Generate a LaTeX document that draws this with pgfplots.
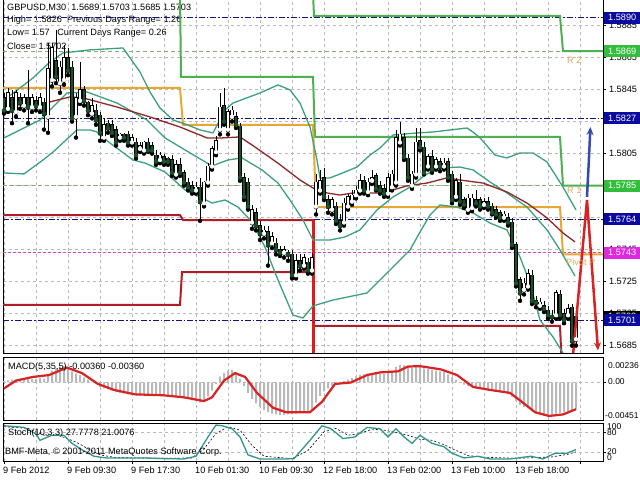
\documentclass[border=0pt]{standalone}
\usepackage{pgfplots}
\pgfplotsset{compat=1.18}
\usepackage{pgfplotstable}
\usepackage{fontspec}
\setmainfont{Liberation Sans}
\usetikzlibrary{arrows.meta}
\definecolor{navyl}{RGB}{20,20,120}
\definecolor{boxnavy}{RGB}{10,10,160}
\definecolor{boxgreen}{RGB}{50,190,60}
\definecolor{boxmag}{RGB}{225,40,225}
\definecolor{rgreen}{RGB}{80,175,80}
\definecolor{pivotc}{RGB}{230,168,50}
\definecolor{sred}{RGB}{175,30,40}
\definecolor{bred}{RGB}{225,25,25}
\definecolor{bbc}{RGB}{60,160,125}
\definecolor{mac}{RGB}{140,40,40}
\definecolor{bearc}{RGB}{25,80,45}
\definecolor{gridc}{RGB}{185,185,185}
\definecolor{lvlgreen}{RGB}{130,175,110}
\definecolor{lvlmag}{RGB}{210,70,210}
\definecolor{histc}{RGB}{185,185,185}
\definecolor{zzblue}{RGB}{55,75,175}
\definecolor{zzred}{RGB}{215,35,35}
\definecolor{lblc}{RGB}{220,170,90}
\definecolor{stochc}{RGB}{50,150,140}
\newcommand\mtf{\fontsize{9.2}{11}\selectfont}
\newcommand\mts{\fontsize{8.5}{10}\selectfont}
\pgfplotsset{
  mtaxis/.style={scale only axis, width=600bp, anchor=south west,
    xmin=-0.25, xmax=149.75,
    axis line style={black, line width=0.7bp},
    tick style={black, line width=0.5bp},
    xtick={0,16,...,144}, minor xtick={8,24,...,136},
    xmajorgrids, xminorgrids, ymajorgrids,
    major grid style={gridc, dash pattern=on 3bp off 3bp, line width=0.5bp},
    minor grid style={gridc, dash pattern=on 3bp off 3bp, line width=0.5bp},
    ytick pos=right, xtick pos=bottom, tick align=outside,
    major tick length=2.5bp, minor tick length=0bp,
    scaled y ticks=false, scaled x ticks=false},
  candle/.style={only marks, mark=none, error bars/.cd, y dir=plus, y explicit, error mark=none}
}
\begin{document}
\pgfplotstableread{
i O H L C
0 1.5840 1.5843 1.5830 1.5832
1 1.5833 1.5846 1.5831 1.5843
2 1.5840 1.5845 1.5824 1.5832
3 1.5831 1.5845 1.5828 1.5843
4 1.5840 1.5843 1.5833 1.5837
5 1.5835 1.5842 1.5832 1.5840
6 1.5840 1.5857 1.5824 1.5834
7 1.5834 1.5842 1.5831 1.5840
8 1.5838 1.5841 1.5832 1.5835
9 1.5834 1.5843 1.5831 1.5840
10 1.5837 1.5840 1.5820 1.5830
11 1.5828 1.5874 1.5818 1.5858
12 1.5851 1.5874 1.5847 1.5871
13 1.5863 1.5882 1.5849 1.5853
14 1.5849 1.5863 1.5843 1.5859
15 1.5851 1.5873 1.5848 1.5865
16 1.5865 1.5871 1.5854 1.5857
17 1.5859 1.5863 1.5825 1.5827
18 1.5828 1.5843 1.5815 1.5840
19 1.5838 1.5862 1.5836 1.5845
20 1.5845 1.5847 1.5835 1.5838
21 1.5837 1.5838 1.5829 1.5832
22 1.5830 1.5840 1.5827 1.5835
23 1.5832 1.5836 1.5823 1.5826
24 1.5829 1.5831 1.5813 1.5818
25 1.5815 1.5827 1.5813 1.5823
26 1.5824 1.5826 1.5818 1.5821
27 1.5823 1.5826 1.5816 1.5818
28 1.5820 1.5822 1.5810 1.5812
29 1.5815 1.5818 1.5813 1.5817
30 1.5817 1.5818 1.5813 1.5815
31 1.5817 1.5819 1.5810 1.5812
32 1.5812 1.5817 1.5810 1.5815
33 1.5812 1.5815 1.5802 1.5804
34 1.5808 1.5812 1.5806 1.5810
35 1.5807 1.5813 1.5805 1.5812
36 1.5812 1.5815 1.5806 1.5807
37 1.5810 1.5812 1.5805 1.5807
38 1.5804 1.5807 1.5798 1.5800
39 1.5801 1.5806 1.5799 1.5804
40 1.5803 1.5805 1.5798 1.5800
41 1.5802 1.5803 1.5798 1.5800
42 1.5801 1.5804 1.5791 1.5793
43 1.5792 1.5801 1.5790 1.5798
44 1.5798 1.5802 1.5791 1.5793
45 1.5793 1.5795 1.5785 1.5787
46 1.5787 1.5790 1.5782 1.5784
47 1.5785 1.5788 1.5780 1.5782
48 1.5782 1.5787 1.5780 1.5784
49 1.5784 1.5790 1.5763 1.5775
50 1.5774 1.5788 1.5772 1.5787
51 1.5787 1.5799 1.5785 1.5797
52 1.5797 1.5810 1.5795 1.5808
53 1.5806 1.5816 1.5804 1.5813
54 1.5820 1.5843 1.5817 1.5834
55 1.5835 1.5846 1.5823 1.5825
56 1.5820 1.5833 1.5817 1.5831
57 1.5828 1.5835 1.5825 1.5832
58 1.5828 1.5831 1.5821 1.5823
59 1.5822 1.5824 1.5788 1.5790
60 1.5790 1.5793 1.5776 1.5778
61 1.5787 1.5790 1.5770 1.5772
62 1.5762 1.5773 1.5758 1.5770
63 1.5768 1.5771 1.5757 1.5760
64 1.5760 1.5763 1.5751 1.5755
65 1.5755 1.5760 1.5752 1.5757
66 1.5756 1.5760 1.5735 1.5748
67 1.5749 1.5756 1.5746 1.5753
68 1.5749 1.5752 1.5742 1.5745
69 1.5745 1.5747 1.5741 1.5743
70 1.5743 1.5747 1.5740 1.5745
71 1.5743 1.5745 1.5738 1.5742
72 1.5742 1.5745 1.5727 1.5729
73 1.5729 1.5742 1.5727 1.5738
74 1.5738 1.5742 1.5732 1.5735
75 1.5735 1.5742 1.5733 1.5740
76 1.5737 1.5740 1.5730 1.5732
77 1.5732 1.5743 1.5730 1.5740
78 1.5772 1.5792 1.5767 1.5787
79 1.5782 1.5795 1.5780 1.5788
80 1.5790 1.5796 1.5776 1.5778
81 1.5776 1.5779 1.5768 1.5772
82 1.5770 1.5778 1.5767 1.5776
83 1.5772 1.5775 1.5761 1.5763
84 1.5763 1.5767 1.5757 1.5760
85 1.5762 1.5777 1.5760 1.5774
86 1.5772 1.5780 1.5770 1.5778
87 1.5775 1.5782 1.5773 1.5779
88 1.5779 1.5785 1.5777 1.5782
89 1.5782 1.5792 1.5780 1.5788
90 1.5788 1.5791 1.5780 1.5782
91 1.5781 1.5790 1.5779 1.5787
92 1.5788 1.5795 1.5786 1.5790
93 1.5791 1.5793 1.5782 1.5783
94 1.5785 1.5788 1.5780 1.5782
95 1.5783 1.5786 1.5778 1.5780
96 1.5780 1.5793 1.5778 1.5790
97 1.5784 1.5795 1.5782 1.5792
98 1.5787 1.5820 1.5785 1.5815
99 1.5812 1.5825 1.5810 1.5817
100 1.5815 1.5818 1.5801 1.5803
101 1.5802 1.5805 1.5788 1.5790
102 1.5785 1.5794 1.5783 1.5792
103 1.5792 1.5821 1.5790 1.5812
104 1.5813 1.5821 1.5807 1.5809
105 1.5809 1.5812 1.5792 1.5793
106 1.5797 1.5805 1.5795 1.5803
107 1.5803 1.5807 1.5793 1.5795
108 1.5797 1.5803 1.5795 1.5801
109 1.5800 1.5802 1.5794 1.5797
110 1.5797 1.5802 1.5795 1.5799
111 1.5800 1.5802 1.5788 1.5790
112 1.5792 1.5794 1.5774 1.5776
113 1.5778 1.5790 1.5776 1.5788
114 1.5787 1.5792 1.5773 1.5775
115 1.5776 1.5778 1.5771 1.5773
116 1.5770 1.5780 1.5768 1.5777
117 1.5771 1.5780 1.5769 1.5777
118 1.5776 1.5782 1.5772 1.5774
119 1.5776 1.5778 1.5770 1.5772
120 1.5773 1.5777 1.5771 1.5775
121 1.5775 1.5778 1.5770 1.5772
122 1.5772 1.5774 1.5767 1.5768
123 1.5770 1.5772 1.5765 1.5767
124 1.5768 1.5770 1.5763 1.5765
125 1.5765 1.5769 1.5763 1.5767
126 1.5765 1.5768 1.5760 1.5762
127 1.5762 1.5765 1.5746 1.5748
128 1.5748 1.5750 1.5722 1.5724
129 1.5726 1.5728 1.5713 1.5718
130 1.5720 1.5727 1.5717 1.5724
131 1.5722 1.5733 1.5720 1.5730
132 1.5729 1.5732 1.5711 1.5713
133 1.5713 1.5716 1.5709 1.5712
134 1.5710 1.5715 1.5708 1.5712
135 1.5710 1.5713 1.5706 1.5708
136 1.5707 1.5710 1.5702 1.5704
137 1.5704 1.5707 1.5700 1.5703
138 1.5704 1.5720 1.5702 1.5718
139 1.5717 1.5720 1.5702 1.5704
140 1.5705 1.5708 1.5699 1.5701
141 1.5704 1.5711 1.5702 1.5708
142 1.5709 1.5711 1.5685 1.5688
143 1.5689 1.5703 1.5685 1.5703
}\candles
\pgfplotstableread{
i v
0 0.0002
1 0.0003
2 0.0004
3 0.0004
4 0.0005
5 0.0005
6 0.0006
7 0.0005
8 0.0005
9 0.0006
10 0.0005
11 0.0011
12 0.0016
13 0.0019
14 0.0021
15 0.0022
16 0.0021
17 0.0015
18 0.0012
19 0.0010
20 0.0007
21 0.0004
22 0.0001
23 -0.0002
24 -0.0006
25 -0.0008
26 -0.0009
27 -0.0011
28 -0.0013
29 -0.0014
30 -0.0015
31 -0.0016
32 -0.0016
33 -0.0017
34 -0.0017
35 -0.0016
36 -0.0016
37 -0.0016
38 -0.0017
39 -0.0017
40 -0.0018
41 -0.0018
42 -0.0019
43 -0.0019
44 -0.0020
45 -0.0021
46 -0.0022
47 -0.0024
48 -0.0025
49 -0.0027
50 -0.0025
51 -0.0019
52 -0.0011
53 -0.0002
54 0.0008
55 0.0013
56 0.0016
57 0.0017
58 0.0014
59 0.0005
60 -0.0005
61 -0.0014
62 -0.0022
63 -0.0028
64 -0.0033
65 -0.0037
66 -0.0040
67 -0.0042
68 -0.0043
69 -0.0044
70 -0.0044
71 -0.0043
72 -0.0043
73 -0.0042
74 -0.0041
75 -0.0040
76 -0.0039
77 -0.0037
78 -0.0027
79 -0.0018
80 -0.0012
81 -0.0008
82 -0.0005
83 -0.0002
84 0.0000
85 0.0002
86 0.0004
87 0.0006
88 0.0008
89 0.0010
90 0.0011
91 0.0012
92 0.0013
93 0.0013
94 0.0012
95 0.0012
96 0.0014
97 0.0016
98 0.0021
99 0.00236
100 0.0023
101 0.0021
102 0.0020
103 0.0022
104 0.0021
105 0.0019
106 0.0018
107 0.0017
108 0.0016
109 0.0015
110 0.0014
111 0.0011
112 0.0007
113 0.0004
114 0.0000
115 -0.0003
116 -0.0005
117 -0.0006
118 -0.0007
119 -0.0008
120 -0.0009
121 -0.0010
122 -0.0011
123 -0.0012
124 -0.0013
125 -0.0014
126 -0.0016
127 -0.0019
128 -0.0025
129 -0.0030
130 -0.0033
131 -0.0035
132 -0.0039
133 -0.0042
134 -0.0044
135 -0.0045
136 -0.00451
137 -0.0044
138 -0.0042
139 -0.0041
140 -0.0040
141 -0.0039
142 -0.0038
143 -0.0036
}\hist
\begin{tikzpicture}[x=1bp,y=1bp]
\path[use as bounding box, fill=white] (0bp,0bp) rectangle (640bp,480bp);
% header text (drawn below the chart)
\node[anchor=west, inner sep=0pt, font=\mtf] at (7bp,472bp) {GBPUSD,M30\ \ 1.5689 1.5703 1.5685 1.5703};
\node[anchor=west, inner sep=0pt, font=\mtf] at (7bp,460bp) {High= 1.5826 \ Previous Days Range= 1.26};
\node[anchor=west, inner sep=0pt, font=\mtf] at (7bp,447bp) {Low= 1.57 \ \ Current Days Range= 0.26};
\node[anchor=west, inner sep=0pt, font=\mtf] at (7bp,434bp) {Close= 1.5702};
% ================= main price panel
\begin{axis}[mtaxis, at={(3bp,127bp)}, height=354bp,
  ymin=1.56804, ymax=1.59016,
  ytick={1.5685,1.5705,1.5725,1.5745,1.5765,1.5785,1.5805,1.5825,1.5845,1.5865,1.5885},
  yticklabels={1.5685,1.5705,1.5725,1.5745,{},{},1.5805,{},1.5845,1.5865,1.5885},
  yticklabel pos=right, yticklabel style={font=\mtf},
  xticklabels={}, xtick style={draw=none}]
% level lines
\addplot[navyl, line width=0.8bp, dash pattern=on 6bp off 2bp on 1.5bp off 2bp] coordinates {(-0.25,1.5890) (149.75,1.5890)};
\addplot[navyl, line width=0.8bp, dash pattern=on 6bp off 2bp on 1.5bp off 2bp] coordinates {(-0.25,1.5827) (149.75,1.5827)};
\addplot[navyl, line width=0.8bp, dash pattern=on 6bp off 2bp on 1.5bp off 2bp] coordinates {(-0.25,1.5764) (149.75,1.5764)};
\addplot[navyl, line width=0.8bp, dash pattern=on 6bp off 2bp on 1.5bp off 2bp] coordinates {(-0.25,1.5701) (149.75,1.5701)};
\addplot[lvlgreen, line width=0.8bp, dash pattern=on 4bp off 3bp] coordinates {(-0.25,1.5869) (149.75,1.5869)};
\addplot[lvlgreen, line width=0.8bp, dash pattern=on 4bp off 3bp] coordinates {(-0.25,1.5785) (149.75,1.5785)};
\addplot[lvlmag, line width=0.8bp, dash pattern=on 3bp off 2bp] coordinates {(-0.25,1.5743) (149.75,1.5743)};
% daily pivot levels
\addplot[rgreen, line width=2bp] coordinates {(77.25,1.5905) (77.5,1.5891) (139,1.5891) (139.75,1.5869) (149.75,1.5869)};
\addplot[rgreen, line width=2bp] coordinates {(44,1.5905) (44.25,1.5853) (77.25,1.5853) (77.75,1.58154) (139,1.58154) (139.75,1.5785) (149.75,1.5785)};
\addplot[pivotc, line width=2bp] coordinates {(-0.25,1.5846) (44,1.5846) (44.75,1.5823) (77.25,1.5823) (78,1.57716) (139,1.57716) (139.75,1.5742) (149.75,1.5742)};
\addplot[sred, line width=2bp] coordinates {(-0.25,1.57666) (44,1.57666) (44.75,1.57635) (77.25,1.57635) (77.5,1.56973) (139,1.56973) (139.5,1.5670)};
\addplot[sred, line width=2bp] coordinates {(-0.25,1.57104) (44,1.57104) (44.5,1.5731) (77.25,1.5731) (77.5,1.5670)};
\addplot[bred, line width=2.5bp] coordinates {(77.35,1.57635) (77.35,1.5670)};
% Bollinger bands and moving average
\addplot[bbc, line width=1.3bp] coordinates {(0,1.58385) (4,1.5846) (7.25,1.58523) (11.5,1.58623) (14.75,1.58679) (21.5,1.58698) (29.75,1.5871) (31.5,1.58648) (34,1.5856) (36.5,1.58435) (39,1.58335) (42.25,1.5826) (45.25,1.58235) (49,1.58198) (52.25,1.58179) (55.25,1.58323) (57.25,1.58366) (64,1.58429) (68.5,1.58479) (71.5,1.58448) (74,1.58366) (76.5,1.58216) (78.25,1.5801) (79,1.57898) (81.5,1.57898) (85.25,1.57935) (88.25,1.57966) (91.5,1.58041) (94,1.58085) (97.25,1.58166) (103.25,1.58179) (107.25,1.58185) (115.75,1.5821) (117.25,1.58185) (119,1.58148) (122.75,1.58041) (125.75,1.58023) (129,1.58054) (132.25,1.58054) (135.75,1.57998) (139.75,1.57841) (143,1.57698)};
\addplot[bbc, line width=1.3bp] coordinates {(0,1.58148) (9,1.5826) (15.75,1.58429) (20.75,1.58435) (28.25,1.58366) (35.75,1.5826) (40.25,1.58148) (45.25,1.58073) (49.5,1.5801) (52,1.57973) (56,1.5801) (59.5,1.58023) (64.5,1.57948) (68.5,1.57866) (71.5,1.5776) (74.75,1.57635) (77.25,1.5751) (81.5,1.5751) (85.25,1.57529) (89,1.57573) (93.25,1.57698) (97.25,1.57779) (101.5,1.57841) (105.25,1.57916) (109,1.5796) (114,1.57966) (117.25,1.57948) (121.5,1.57873) (125.75,1.57804) (130.75,1.57716) (135.75,1.57573) (139,1.57448) (142.75,1.57285)};
\addplot[bbc, line width=1.3bp] coordinates {(0,1.57929) (5,1.57923) (9.75,1.5801) (12.25,1.5806) (18.25,1.58198) (21.5,1.58198) (23.25,1.58185) (26.5,1.58116) (32.25,1.5801) (35.25,1.57991) (40.25,1.57935) (45.25,1.57823) (49.5,1.57773) (52,1.57741) (55.25,1.5776) (58.5,1.57716) (62,1.57623) (65.25,1.57466) (68.5,1.5726) (72.25,1.57041) (74.75,1.57023) (77.25,1.57098) (82.25,1.57135) (90.75,1.57179) (97.25,1.57341) (101.5,1.57448) (104,1.5756) (106.5,1.57666) (109,1.57729) (113.25,1.57716) (117.25,1.57679) (121.5,1.57616) (125.75,1.57573) (129,1.57404) (131.5,1.57241) (134,1.5701) (137.25,1.56904) (139.75,1.56804) (143,1.5668)};
\addplot[mac, line width=1.3bp] coordinates {(0,1.58354) (7.25,1.58354) (11.5,1.58373) (16.5,1.58404) (19.75,1.58398) (28.25,1.58341) (36.5,1.58279) (44,1.58216) (50.75,1.58148) (54.5,1.58148) (59,1.58154) (62.75,1.58091) (68.5,1.5799) (74,1.57885) (77.25,1.57835) (80.75,1.57804) (84,1.57791) (87.25,1.57804) (94,1.57804) (97.25,1.57823) (100.75,1.57848) (105.75,1.57866) (110.75,1.57898) (114,1.57885) (119.75,1.57866) (125.75,1.5781) (130.75,1.57741) (135.75,1.57648) (139.75,1.57554) (142.75,1.57498)};
% candles: wicks, outlines, bodies
\addplot[black, candle, error bar style={line width=0.7bp, black}] table[x=i, y=L, y error plus expr={\thisrow{H}-\thisrow{L}}] {\candles};
\addplot[black, candle, error bar style={line width=3.3bp, black}] table[x=i, y expr={min(\thisrow{O},\thisrow{C})-0.00004}, y error plus expr={abs(\thisrow{C}-\thisrow{O})+0.00008}] {\candles};
\addplot[white, restrict expr to domain={\thisrow{C}-\thisrow{O}}{0:1}, candle, error bar style={line width=1.6bp, white}] table[x=i, y=O, y error plus expr={\thisrow{C}-\thisrow{O}}] {\candles};
\addplot[bearc, restrict expr to domain={\thisrow{O}-\thisrow{C}}{0.00001:1}, candle, error bar style={line width=1.6bp, bearc}] table[x=i, y=C, y error plus expr={\thisrow{O}-\thisrow{C}}] {\candles};
% zigzag arrows
\addplot[zzred, line width=2.5bp, -{Stealth[length=8bp,width=7bp]}] coordinates {(142.25,1.5679) (145.75,1.5776) (148.5,1.5682)};
\addplot[zzblue, line width=2.5bp, -{Stealth[length=8bp,width=7bp]}] coordinates {(145.75,1.5778) (146.2,1.5800) (146.6,1.58216)};
\end{axis}
% ================= MACD panel
\begin{axis}[mtaxis, at={(3bp,60bp)}, height=63bp,
  ymin=-0.00505, ymax=0.00343, ytick={0}, yticklabels={},
  xticklabels={}, xtick style={draw=none}]
\addplot[ybar, bar width=0.5, fill=histc, draw=none] table[x=i, y=v] {\hist};
\addplot[zzred, line width=2.2bp] coordinates {(0,-0.0008) (3,0.00025) (7.25,0.00075) (11.25,0.001) (15.75,0.002) (19.5,0.00126) (23.5,-0.0002) (27.5,-0.001) (32.75,-0.0016) (39.75,-0.00172) (45,-0.002) (50,-0.0025) (52,-0.002) (55,0.00025) (57.75,0.00126) (60.25,0.00075) (63.25,-0.0014) (67.25,-0.0034) (70.5,-0.004) (76.5,-0.004) (79.5,-0.0026) (82.75,-0.0002) (86.75,0) (90.75,0.001) (94,0.00136) (98.5,0.0015) (101,0.00215) (104,0.0022) (109.25,0.00176) (113.25,0.001) (117.25,-0.0006) (121.5,-0.001) (126.5,-0.0014) (128.5,-0.0022) (132.75,-0.004) (136.25,-0.00451) (139.75,-0.0043) (143,-0.0036)};
\end{axis}
% ================= Stochastic panel
\begin{axis}[mtaxis, at={(3bp,19bp)}, height=38bp,
  ymin=-6, ymax=106, ytick={20,80}, yticklabels={},
  xticklabels={9 Feb 2012,9 Feb 09:30,9 Feb 17:30,10 Feb 01:30,10 Feb 09:30,12 Feb 18:00,13 Feb 02:00,13 Feb 10:00,13 Feb 18:00,{}},
  xticklabel style={font=\mtf, anchor=north west, inner sep=0pt, xshift=-1bp, yshift=-3bp}]
\addplot[black, line width=0.6bp, dash pattern=on 2bp off 2bp] coordinates {(0,95) (6,90) (10,70) (14,68) (18,50) (21,30) (24,12) (28,4) (40,2) (47,3) (50,30) (53,75) (56,95) (59,85) (62,40) (65,8) (72,1) (76,25) (80,80) (83,90) (86,70) (89,75) (92,88) (95,85) (98,78) (101,70) (104,58) (107,55) (110,42) (113,25) (116,10) (120,5) (128,2) (133,4) (137,6) (141,14) (143,21.0076)};
\addplot[stochc, line width=1.3bp] coordinates {(0,98) (5,93) (8,74) (9,55) (12,70) (15,70) (17,46) (19.5,27) (22.5,8) (25.5,3) (29.5,3) (35,3) (40,1) (45,0) (48,8) (51,65) (53,100) (54.5,98) (57,89) (59,65) (61,12) (64,0) (70.5,0) (72.5,1) (76.5,55) (79.5,98) (81.75,89) (84.75,60) (87.75,65) (90.75,93) (94,89) (96,65) (98,89) (100,65) (102,46) (104,70) (107,46) (110,36) (112,17) (115,3) (118.5,8) (121.5,0) (126.5,0) (131.75,8) (134.75,0) (137.75,17) (140.75,17) (143,27.7778)};
\end{axis}
% ================= panel texts
\node[anchor=west, inner sep=0pt, font=\mtf] at (8bp,113bp) {MACD(5,35,5) -0.00360 -0.00360};
\node[anchor=west, inner sep=0pt, font=\mtf] at (8bp,47bp) {Stoch(10,3,3) 27.7778 21.0076};
\node[anchor=west, inner sep=0pt, font=\mtf] at (5bp,28bp) {BMF-Meta, © 2001-2011 MetaQuotes Software Corp.};
\node[anchor=west, inner sep=0pt, font=\mts] at (608bp,114bp) {0.00236};
\node[anchor=west, inner sep=0pt, font=\mts] at (608bp,98bp) {0.00};
\node[anchor=west, inner sep=0pt, font=\mts] at (605bp,64bp) {-0.00451};
\node[anchor=west, inner sep=0pt, font=\mts] at (607bp,53bp) {100};
\node[anchor=west, inner sep=0pt, font=\mts] at (607bp,47bp) {80};
\node[anchor=west, inner sep=0pt, font=\mts] at (607bp,28bp) {20};
\node[anchor=west, inner sep=0pt, font=\mts] at (607bp,22bp) {0};
\node[anchor=west, inner sep=0pt, font=\mtf, text=lblc] at (567bp,420bp) {R 2};
\node[anchor=west, inner sep=0pt, font=\mtf, text=lblc] at (567bp,290bp) {R 1};
\node[anchor=west, inner sep=0pt, font=\mtf, text=lblc] at (566bp,218bp) {Pivot P};
% ================= coloured price labels
\tikzset{pbox/.style={anchor=west, inner sep=0pt, minimum width=36bp, minimum height=12bp, font=\mtf, text=white}}
\node[pbox, fill=boxnavy] at (604bp,462.4bp) {1.5890};
\node[pbox, fill=boxgreen] at (604bp,428.8bp) {1.5869};
\node[pbox, fill=boxnavy] at (604bp,361.6bp) {1.5827};
\node[pbox, fill=boxgreen] at (604bp,294.4bp) {1.5785};
\node[pbox, fill=boxnavy] at (604bp,260.8bp) {1.5764};
\node[pbox, fill=boxmag] at (604bp,227.2bp) {1.5743};
\node[pbox, fill=black] at (604bp,163.4bp) {1.5703};
\node[pbox, fill=boxnavy] at (604bp,160bp) {1.5701};
\end{tikzpicture}
\end{document}
